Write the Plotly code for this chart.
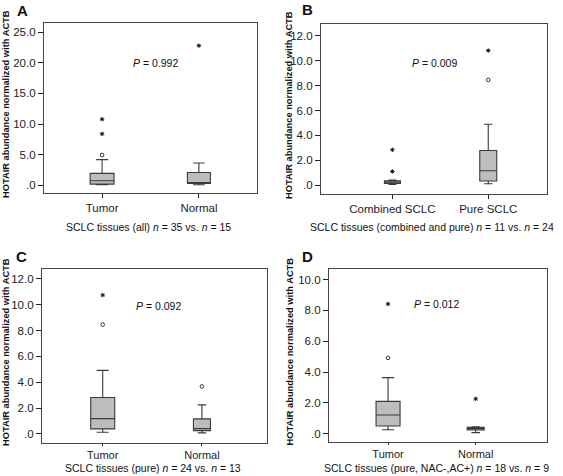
import plotly.graph_objects as go

# ---------------- data ----------------
# Panel A: SCLC tissues (all)
A_cats = ["Tumor", "Normal"]
A_q1 = [0.20, 0.30]
A_median = [0.76, 0.43]
A_q3 = [1.96, 2.10]
A_lowerfence = [0.10, 0.10]
A_upperfence = [4.20, 3.65]
A_mild_x = ["Tumor"]
A_mild_y = [4.95]
A_extreme_x = ["Tumor", "Tumor", "Normal"]
A_extreme_y = [8.40, 10.80, 22.80]
A_p = "0.992"

# Panel B: combined vs pure
B_cats = ["Combined SCLC", "Pure SCLC"]
B_q1 = [0.16, 0.35]
B_median = [0.27, 1.17]
B_q3 = [0.37, 2.80]
B_lowerfence = [0.07, 0.13]
B_upperfence = [0.42, 4.90]
B_mild_x = ["Pure SCLC"]
B_mild_y = [8.45]
B_extreme_x = ["Combined SCLC", "Combined SCLC", "Pure SCLC"]
B_extreme_y = [1.12, 2.85, 10.80]
B_p = "0.009"

# Panel C: pure
C_cats = ["Tumor", "Normal"]
C_q1 = [0.39, 0.26]
C_median = [1.19, 0.41]
C_q3 = [2.82, 1.17]
C_lowerfence = [0.13, 0.08]
C_upperfence = [4.92, 2.25]
C_mild_x = ["Tumor", "Normal"]
C_mild_y = [8.47, 3.68]
C_extreme_x = ["Tumor"]
C_extreme_y = [10.75]
C_p = "0.092"

# Panel D: pure, NAC-, AC+
D_cats = ["Tumor", "Normal"]
D_q1 = [0.50, 0.24]
D_median = [1.21, 0.33]
D_q3 = [2.10, 0.41]
D_lowerfence = [0.26, 0.07]
D_upperfence = [3.64, 0.45]
D_mild_x = ["Tumor"]
D_mild_y = [4.92]
D_extreme_x = ["Tumor", "Normal"]
D_extreme_y = [8.42, 2.26]
D_p = "0.012"

A_ticks = [0, 5, 10, 15, 20, 25]
B_ticks = [0, 2, 4, 6, 8, 10, 12]
C_ticks = [0, 2, 4, 6, 8, 10, 12]
D_ticks = [0, 2, 4, 6, 8, 10]

A_xtitle = "SCLC tissues (all) <i>n</i> = 35 vs. <i>n</i> = 15"
B_xtitle = "SCLC tissues (combined and pure) <i>n</i> = 11 vs. <i>n</i> = 24"
C_xtitle = "SCLC tissues (pure) <i>n</i> = 24 vs. <i>n</i> = 13"
D_xtitle = "SCLC tissues (pure, NAC-,AC+) <i>n</i> = 18 vs. <i>n</i> = 9"
ytitle = "HOTAIR abundance normalized with ACTB"

def tick_text(v):
    return ".0" if v == 0 else f"{v:.1f}"

W, H = 563, 476
FONT = "Liberation Sans, Arial, sans-serif"
BOXFILL = "#bdbdbd"
BOXLINE = "#3a3a3a"
FRAME = "#444444"

panels = [
    dict(name="A", cats=A_cats, q1=A_q1, med=A_median, q3=A_q3, lf=A_lowerfence, uf=A_upperfence,
         mx=A_mild_x, my=A_mild_y, ex=A_extreme_x, ey=A_extreme_y, p=A_p, ticks=A_ticks, xt=A_xtitle,
         frame=(44, 257, 23, 193), xr=[-0.6, 1.6], yr=[-1.25, 26.5], widths=[0.247, 0.237],
         letter=(22, 10), ylab=6, ptxt=(155, 63), xtitle_y=227, xtl=4, xtf=11.5),
    dict(name="B", cats=B_cats, q1=B_q1, med=B_median, q3=B_q3, lf=B_lowerfence, uf=B_upperfence,
         mx=B_mild_x, my=B_mild_y, ex=B_extreme_x, ey=B_extreme_y, p=B_p, ticks=B_ticks, xt=B_xtitle,
         frame=(321, 547, 24, 194), xr=[-0.745, 1.613], yr=[-0.69, 12.93], widths=[0.167, 0.177],
         letter=(307, 9), ylab=289, ptxt=(434, 63), xtitle_y=227, xtl=4, xtf=11.5),
    dict(name="C", cats=C_cats, q1=C_q1, med=C_median, q3=C_q3, lf=C_lowerfence, uf=C_upperfence,
         mx=C_mild_x, my=C_mild_y, ex=C_extreme_x, ey=C_extreme_y, p=C_p, ticks=C_ticks, xt=C_xtitle,
         frame=(42, 267, 269, 443), xr=[-0.612, 1.656], yr=[-0.70, 12.77], widths=[0.242, 0.171],
         letter=(21, 256), ylab=6, ptxt=(158, 306), xtitle_y=467.5, xtl=2, xtf=11),
    dict(name="D", cats=D_cats, q1=D_q1, med=D_median, q3=D_q3, lf=D_lowerfence, uf=D_upperfence,
         mx=D_mild_x, my=D_mild_y, ex=D_extreme_x, ey=D_extreme_y, p=D_p, ticks=D_ticks, xt=D_xtitle,
         frame=(329, 547, 269, 442), xr=[-0.674, 1.814], yr=[-0.54, 10.69], widths=[0.274, 0.194],
         letter=(307, 256), ylab=289, ptxt=(436, 304), xtitle_y=467.5, xtl=2, xtf=11),
]

fig = go.Figure()
annotations = []
layout = {}

for i, pn in enumerate(panels):
    k = "" if i == 0 else str(i + 1)
    xa, ya = "x" + k, "y" + k
    for j, c in enumerate(pn["cats"]):
        fig.add_trace(go.Box(
            x=[c], q1=[pn["q1"][j]], median=[pn["med"][j]], q3=[pn["q3"][j]],
            lowerfence=[pn["lf"][j]], upperfence=[pn["uf"][j]],
            width=pn["widths"][j], whiskerwidth=0.5,
            fillcolor=BOXFILL, line=dict(color=BOXLINE, width=1.1),
            boxpoints=False, showlegend=False, xaxis=xa, yaxis=ya, hoverinfo="skip"))
    fig.add_trace(go.Scatter(x=pn["mx"], y=pn["my"], mode="markers", xaxis=xa, yaxis=ya,
                             marker=dict(symbol="circle-open", size=3.6, color="#333",
                                         line=dict(width=1.0, color="#333")),
                             showlegend=False, hoverinfo="skip"))
    fig.add_trace(go.Scatter(x=pn["ex"], y=pn["ey"], mode="markers", xaxis=xa, yaxis=ya,
                             marker=dict(symbol="asterisk-open", size=3.6, color="#111",
                                         line=dict(width=1.0, color="#111")),
                             showlegend=False, hoverinfo="skip"))
    x0, x1, y0, y1 = pn["frame"]
    layout["xaxis" + k] = dict(
        domain=[x0 / W, x1 / W], range=pn["xr"], type="category", categoryorder="array",
        categoryarray=pn["cats"], anchor=ya, showgrid=False, zeroline=False, automargin=False,
        showline=True, mirror=True, linecolor=FRAME, linewidth=1.3,
        ticks="outside", ticklen=pn["xtl"], tickcolor="#222", tickwidth=1,
        tickfont=dict(family=FONT, size=pn["xtf"], color="#222"), fixedrange=True)
    layout["yaxis" + k] = dict(
        domain=[1 - y1 / H, 1 - y0 / H], range=pn["yr"], anchor=xa, showgrid=False, zeroline=False,
        automargin=False,
        showline=True, mirror=True, linecolor=FRAME, linewidth=1.3,
        tickvals=pn["ticks"], ticktext=[tick_text(v) for v in pn["ticks"]],
        ticks="outside", ticklen=5, tickcolor="#222", tickwidth=1,
        tickfont=dict(family=FONT, size=11.5, color="#222"), fixedrange=True)
    # panel letter
    annotations.append(dict(text="<b>%s</b>" % pn["name"], x=pn["letter"][0] / W, y=1 - pn["letter"][1] / H,
                            xref="paper", yref="paper", showarrow=False, xanchor="center", yanchor="middle",
                            font=dict(family=FONT, size=15, color="#111")))
    # y title
    annotations.append(dict(text="<b>%s</b>" % ytitle, x=pn["ylab"] / W, y=1 - ((y0 + y1) / 2 - 4) / H,
                            xref="paper", yref="paper", showarrow=False, textangle=-90,
                            xanchor="center", yanchor="middle",
                            font=dict(family=FONT, size=9.3, color="#111")))
    # x title
    annotations.append(dict(text=pn["xt"], x=(x0 + x1) / 2 / W - 0.003, y=1 - pn["xtitle_y"] / H,
                            xref="paper", yref="paper", showarrow=False, xanchor="center", yanchor="middle",
                            font=dict(family=FONT, size=10.5, color="#111")))
    # P value
    annotations.append(dict(text="<i>P</i> = %s" % pn["p"], x=pn["ptxt"][0] / W, y=1 - pn["ptxt"][1] / H,
                            xref="paper", yref="paper", showarrow=False, xanchor="center", yanchor="middle",
                            font=dict(family=FONT, size=10.5, color="#111")))

fig.update_layout(width=W, height=H, margin=dict(l=0, r=0, t=0, b=0, pad=0),
                  paper_bgcolor="white", plot_bgcolor="white",
                  boxmode="overlay", annotations=annotations, **layout)

fig.write_html("out.html", config={"displayModeBar": False},
               post_script="document.body.style.margin='0';document.body.style.overflow='hidden';")
